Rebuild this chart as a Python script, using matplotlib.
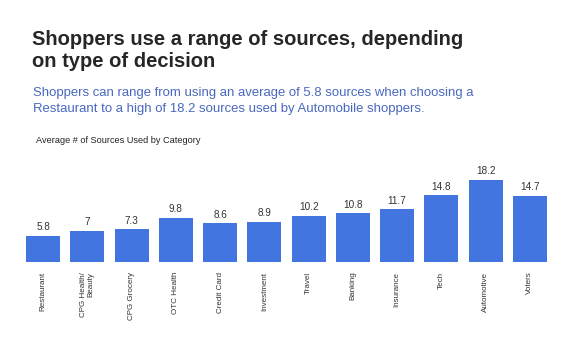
import matplotlib.pyplot as plt

plt.rcParams['font.family'] = ['Liberation Sans', 'DejaVu Sans']

categories = ['Restaurant', 'CPG Health/\nBeauty', 'CPG Grocery', 'OTC Health', 'Credit Card',
              'Investment', 'Travel', 'Banking', 'Insurance', 'Tech', 'Automotive', 'Voters']
values = [5.8, 7, 7.3, 9.8, 8.6, 8.9, 10.2, 10.8, 11.7, 14.8, 18.2, 14.7]
labels = ['5.8', '7', '7.3', '9.8', '8.6', '8.9', '10.2', '10.8', '11.7', '14.8', '18.2', '14.7']

W, H = 567, 342
fig = plt.figure(figsize=(W / 100, H / 100), dpi=100)

# multi-line text: baseline anchor is the last line
fig.text(32 / W, 1 - 67 / H, 'Shoppers use a range of sources, depending\non type of decision',
         fontsize=14.5, fontweight='bold', color='#262626', va='baseline', linespacing=1.17)
fig.text(33 / W, 1 - 112 / H, 'Shoppers can range from using an average of 5.8 sources when choosing a\n'
         'Restaurant to a high of 18.2 sources used by Automobile shoppers.',
         fontsize=9.45, color='#4a68c0', va='baseline', linespacing=1.45)
fig.text(36 / W, 1 - 143 / H, 'Average # of Sources Used by Category',
         fontsize=6.6, color='#222222', va='baseline')

ax = fig.add_axes([21 / W, 80 / H, 531 / W, 90 / H])
x = range(len(categories))
ax.bar(x, values, width=0.77, color='#4275e0')
for i, v in enumerate(values):
    ax.text(i, v + 0.8, labels[i], ha='center', va='bottom', fontsize=7.2, color='#333333')

ax.set_xlim(-0.5, len(categories) - 0.5)
ax.set_ylim(0, 20)
ax.set_xticks(list(x))
ax.set_xticklabels(categories, rotation=90, fontsize=5.8, color='#333333',
                   va='top', ha='center', linespacing=1.0, multialignment='right')
ax.tick_params(axis='x', length=0, pad=7)
ax.set_yticks([])
for s in ax.spines.values():
    s.set_visible(False)

fig.savefig('out.png', dpi=100)
